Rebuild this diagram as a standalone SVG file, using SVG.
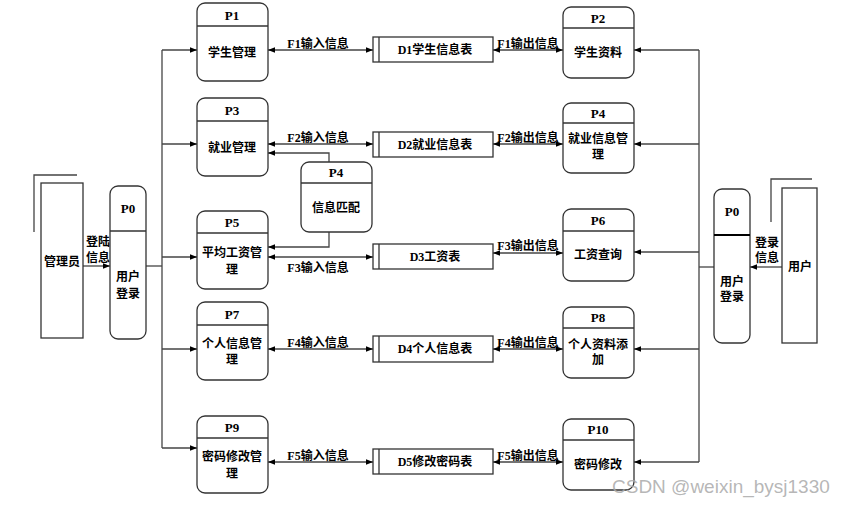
<svg xmlns="http://www.w3.org/2000/svg" width="842" height="506" viewBox="0 0 842 506">
<defs>
<marker id="ah" viewBox="0 0 10 10" refX="10" refY="5" markerWidth="7" markerHeight="7" markerUnits="userSpaceOnUse" orient="auto-start-reverse">
<path d="M0,1 L10,5 L0,9 Z" fill="#000"/>
</marker>
</defs>
<style>
.box{fill:#fff;stroke:#333;stroke-width:1.3}
.hd{stroke:#333;stroke-width:1.3}
.st{fill:#fff;stroke:#333;stroke-width:1.3}
.ln{fill:none;stroke:#444;stroke-width:1.3}
.t{font-family:"Liberation Serif","Noto Sans CJK SC",serif;font-weight:bold;font-size:12px;fill:#000;text-anchor:middle;dominant-baseline:central}
.tt{font-family:"Liberation Serif","Noto Sans CJK SC",serif;font-weight:bold;font-size:13px;fill:#000;text-anchor:middle;dominant-baseline:central}
.wm{font-family:"Liberation Sans","DejaVu Sans",sans-serif;font-size:19px;fill:#aaa;fill-opacity:0.85}
</style>
<rect width="842" height="506" fill="#fff"/>

<g id="connectors">
<path class="ln" d="M146,266 H162"/>
<path class="ln" d="M162,50 V448"/>
<path class="ln" d="M162,50 H197" marker-end="url(#ah)"/>
<path class="ln" d="M162,144 H197" marker-end="url(#ah)"/>
<path class="ln" d="M162,257 H197" marker-end="url(#ah)"/>
<path class="ln" d="M162,349 H197" marker-end="url(#ah)"/>
<path class="ln" d="M162,448 H197" marker-end="url(#ah)"/>
<path class="ln" d="M714,267 H699"/>
<path class="ln" d="M699,50 V462"/>
<path class="ln" d="M699,50 H634" marker-end="url(#ah)"/>
<path class="ln" d="M699,144 H634" marker-end="url(#ah)"/>
<path class="ln" d="M699,252 H634" marker-end="url(#ah)"/>
<path class="ln" d="M699,349 H634" marker-end="url(#ah)"/>
<path class="ln" d="M699,462 H634" marker-end="url(#ah)"/>
<path class="ln" d="M83,266 H110" marker-end="url(#ah)"/>
<path class="ln" d="M782,267 H750" marker-end="url(#ah)"/>
<path class="ln" d="M268,50 H373" marker-start="url(#ah)" marker-end="url(#ah)"/>
<path class="ln" d="M493,50 H563" marker-start="url(#ah)" marker-end="url(#ah)"/>
<path class="ln" d="M268,144 H373" marker-start="url(#ah)" marker-end="url(#ah)"/>
<path class="ln" d="M493,144 H563" marker-start="url(#ah)" marker-end="url(#ah)"/>
<path class="ln" d="M268,257 H373" marker-start="url(#ah)" marker-end="url(#ah)"/>
<path class="ln" d="M493,253 H563" marker-start="url(#ah)" marker-end="url(#ah)"/>
<path class="ln" d="M268,349 H373" marker-start="url(#ah)" marker-end="url(#ah)"/>
<path class="ln" d="M493,349 H563" marker-start="url(#ah)" marker-end="url(#ah)"/>
<path class="ln" d="M268,462 H373" marker-start="url(#ah)" marker-end="url(#ah)"/>
<path class="ln" d="M493,462 H563" marker-start="url(#ah)" marker-end="url(#ah)"/>
<path class="ln" d="M329,162 V153 H268" marker-end="url(#ah)"/>
<path class="ln" d="M329,232 V247 H268" marker-end="url(#ah)"/>
<text class="t" x="318" y="44">F1输入信息</text>
<text class="t" x="528" y="44">F1输出信息</text>
<text class="t" x="318" y="138">F2输入信息</text>
<text class="t" x="528" y="138">F2输出信息</text>
<text class="t" x="318" y="268">F3输入信息</text>
<text class="t" x="528" y="246">F3输出信息</text>
<text class="t" x="318" y="343">F4输入信息</text>
<text class="t" x="528" y="343">F4输出信息</text>
<text class="t" x="318" y="456">F5输入信息</text>
<text class="t" x="528" y="456">F5输出信息</text>
<text class="t" x="98" y="242">登陆</text>
<text class="t" x="98" y="258">信息</text>
<text class="t" x="767" y="243">登录</text>
<text class="t" x="767" y="258">信息</text>
</g>

<g id="admin">
<path class="ln" d="M34,232 V175 H77"/>
<rect class="st" x="41" y="183" width="42" height="155"/>
<text class="t" x="62" y="262">管理员</text>
</g>

<g id="user">
<path class="ln" d="M771,222 V179 H812"/>
<rect class="st" x="782" y="188" width="35" height="155"/>
<text class="t" x="800" y="267">用户</text>
</g>

<g id="P0L">
<rect class="box" x="110" y="186" width="36" height="153" rx="8"/>
<line class="hd" x1="110" y1="231" x2="146" y2="231"/>
<text class="tt" x="128" y="208">P0</text>
<text class="t" x="128" y="277">用户</text>
<text class="t" x="128" y="294">登录</text>
</g>

<g id="P0R">
<rect class="box" x="714" y="189" width="36" height="154" rx="8"/>
<line x1="714" y1="235" x2="750" y2="235" stroke="#000" stroke-width="2"/>
<text class="tt" x="732" y="211">P0</text>
<text class="t" x="732" y="282">用户</text>
<text class="t" x="732" y="297">登录</text>
</g>

<g id="P1">
<rect class="box" x="197" y="3" width="71" height="78" rx="8"/>
<line class="hd" x1="197" y1="26" x2="268" y2="26"/>
<text class="tt" x="232" y="15">P1</text>
<text class="t" x="232" y="53">学生管理</text>
</g>
<g id="P3">
<rect class="box" x="197" y="98" width="71" height="78" rx="8"/>
<line class="hd" x1="197" y1="121" x2="268" y2="121"/>
<text class="tt" x="232" y="110">P3</text>
<text class="t" x="232" y="148">就业管理</text>
</g>
<g id="P5">
<rect class="box" x="197" y="211" width="71" height="78" rx="8"/>
<line class="hd" x1="197" y1="233" x2="268" y2="233"/>
<text class="tt" x="232" y="222">P5</text>
<text class="t" x="232" y="253">平均工资管</text>
<text class="t" x="232" y="270">理</text>
</g>
<g id="P7">
<rect class="box" x="197" y="302" width="71" height="78" rx="8"/>
<line class="hd" x1="197" y1="325" x2="268" y2="325"/>
<text class="tt" x="232" y="314">P7</text>
<text class="t" x="232" y="344">个人信息管</text>
<text class="t" x="232" y="360">理</text>
</g>
<g id="P9">
<rect class="box" x="197" y="416" width="71" height="77" rx="8"/>
<line class="hd" x1="197" y1="438" x2="268" y2="438"/>
<text class="tt" x="232" y="427">P9</text>
<text class="t" x="232" y="457">密码修改管</text>
<text class="t" x="232" y="474">理</text>
</g>

<g id="P2">
<rect class="box" x="563" y="7" width="71" height="71" rx="8"/>
<line class="hd" x1="563" y1="28" x2="634" y2="28"/>
<text class="tt" x="598" y="18">P2</text>
<text class="t" x="598" y="53">学生资料</text>
</g>
<g id="P4">
<rect class="box" x="563" y="103" width="71" height="70" rx="8"/>
<line class="hd" x1="563" y1="123" x2="634" y2="123"/>
<text class="tt" x="598" y="113">P4</text>
<text class="t" x="598" y="139">就业信息管</text>
<text class="t" x="598" y="155">理</text>
</g>
<g id="P6">
<rect class="box" x="563" y="209" width="71" height="72" rx="8"/>
<line class="hd" x1="563" y1="231" x2="634" y2="231"/>
<text class="tt" x="598" y="220">P6</text>
<text class="t" x="598" y="255">工资查询</text>
</g>
<g id="P8">
<rect class="box" x="563" y="307" width="71" height="71" rx="8"/>
<line class="hd" x1="563" y1="328" x2="634" y2="328"/>
<text class="tt" x="598" y="317">P8</text>
<text class="t" x="598" y="345">个人资料添</text>
<text class="t" x="598" y="360">加</text>
</g>
<g id="P10">
<rect class="box" x="563" y="419" width="71" height="71" rx="8"/>
<line class="hd" x1="563" y1="440" x2="634" y2="440"/>
<text class="tt" x="598" y="429">P10</text>
<text class="t" x="598" y="465">密码修改</text>
</g>

<g id="P4match">
<rect class="box" x="301" y="162" width="71" height="70" rx="8"/>
<line class="hd" x1="301" y1="183" x2="372" y2="183"/>
<text class="tt" x="336" y="172">P4</text>
<text class="t" x="336" y="208">信息匹配</text>
</g>

<g id="D1">
<rect class="st" x="373" y="37" width="120" height="25"/>
<line class="hd" x1="379" y1="37" x2="379" y2="62"/>
<text class="t" x="435" y="50">D1学生信息表</text>
</g>
<g id="D2">
<rect class="st" x="373" y="132" width="120" height="25"/>
<line class="hd" x1="379" y1="132" x2="379" y2="157"/>
<text class="t" x="435" y="145">D2就业信息表</text>
</g>
<g id="D3">
<rect class="st" x="373" y="244" width="120" height="25"/>
<line class="hd" x1="379" y1="244" x2="379" y2="269"/>
<text class="t" x="435" y="257">D3工资表</text>
</g>
<g id="D4">
<rect class="st" x="373" y="336" width="120" height="26"/>
<line class="hd" x1="379" y1="336" x2="379" y2="362"/>
<text class="t" x="435" y="349">D4个人信息表</text>
</g>
<g id="D5">
<rect class="st" x="373" y="449" width="120" height="25"/>
<line class="hd" x1="379" y1="449" x2="379" y2="474"/>
<text class="t" x="435" y="462">D5修改密码表</text>
</g>

<text class="wm" x="612" y="493">CSDN @weixin_bysj1330</text>
</svg>
